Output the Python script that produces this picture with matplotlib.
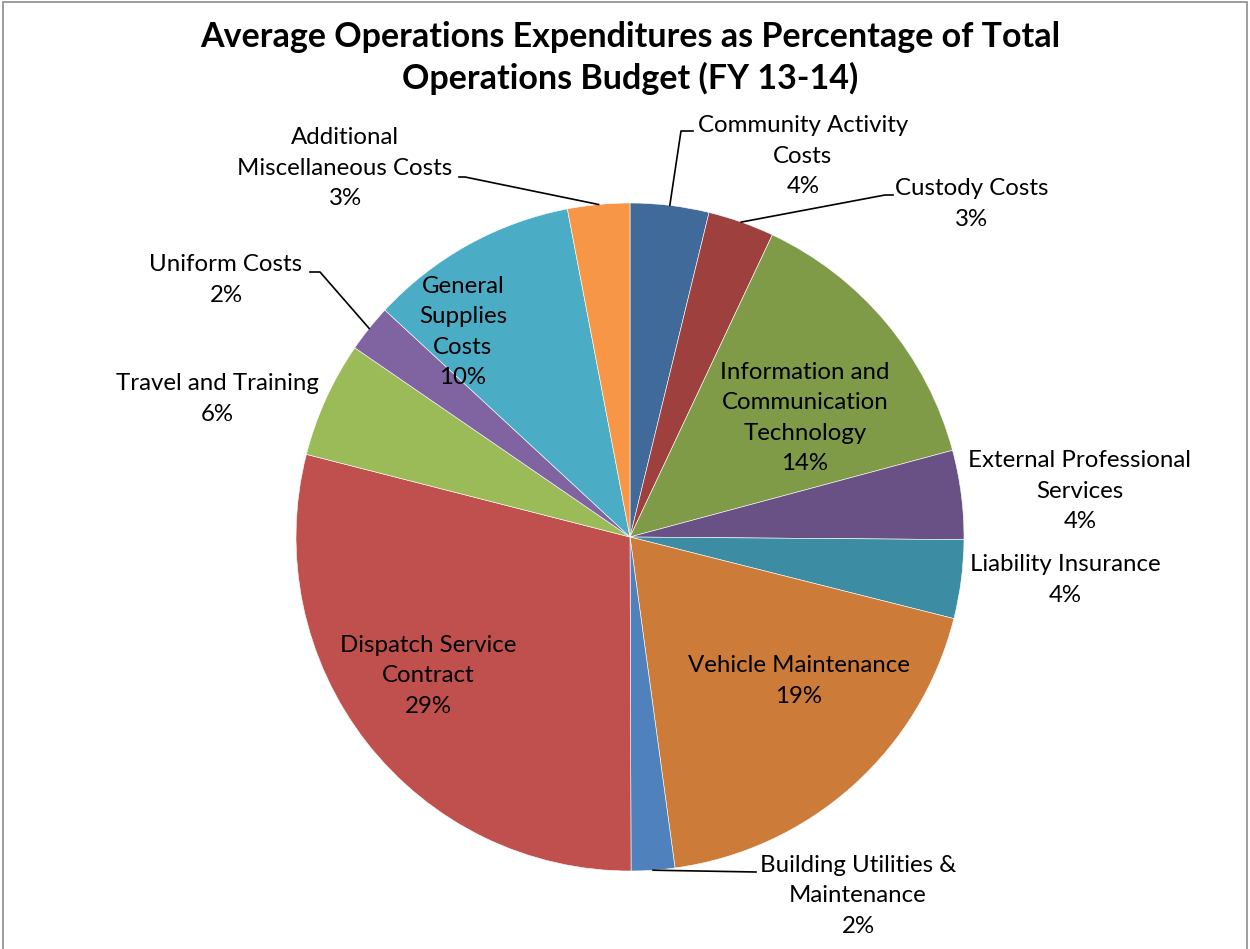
import matplotlib.pyplot as plt
from matplotlib.patches import Rectangle
import numpy as np

# --- Data ---
categories = [
    'Community Activity\nCosts',
    'Custody Costs',
    'Information and\nCommunication\nTechnology',
    'External Professional\nServices',
    'Liability Insurance',
    'Vehicle Maintenance',
    'Building Utilities &\nMaintenance',
    'Dispatch Service\nContract',
    'Travel and Training',
    'Uniform Costs',
    'General\nSupplies\nCosts',
    'Additional\nMiscellaneous Costs',
]
values = [3.8, 3.2, 13.8, 4.3, 3.8, 18.9, 2.1, 29.0, 5.6, 2.3, 10.1, 3.0]

colors = ['#3F6A9A', '#9E413E', '#7F9B48', '#6A5185', '#3C8DA3', '#CC7B38',
          '#4F81BD', '#C0504D', '#9BBB59', '#8064A2', '#4BACC6', '#F79646']

# label placement in pixel space (x, y from top), plus leader line points
label_pos = [(803, 156), (972, 204), (805, 418), (1080, 491), (1065, 580), (799, 681),
             (858, 896), (428, 676), (217, 399), (226, 280), (463, 332), (345, 168)]
leaders = {
    0: [(681, 131), (693, 131)],
    1: [(885, 195), (893, 195)],
    6: [(756, 872)],
    9: [(320, 272), (310, 272)],
    11: [(465, 177), (459, 177)],
}

W, H = 1250, 949
cx, cy, r = 630, 537, 334

plt.rcParams['font.family'] = ['Lato', 'DejaVu Sans']
fig = plt.figure(figsize=(W / 100, H / 100), dpi=100)
ax = fig.add_axes([0, 0, 1, 1])

# y axis runs downward, so counterclock=True draws clockwise on screen
wedges, _ = ax.pie(values, colors=colors, startangle=-90, counterclock=True,
                   center=(cx, cy), radius=r, frame=True,
                   wedgeprops={'linewidth': 0.4, 'edgecolor': 'white'})
ax.set_xlim(0, W)
ax.set_ylim(H, 0)
ax.set_aspect('equal')
ax.axis('off')

for i, (w, name, v) in enumerate(zip(wedges, categories, values)):
    x, y = label_pos[i]
    ax.text(x, y, f'{name}\n{v:.0f}%', ha='center', va='center', fontsize=17.3,
            linespacing=1.55, color='black')
    if i in leaders:
        mid = np.deg2rad((w.theta1 + w.theta2) / 2)
        sx, sy = cx + r * np.cos(mid), cy + r * np.sin(mid)
        pts = [(sx, sy)] + leaders[i]
        ax.plot([p[0] for p in pts], [p[1] for p in pts], color='black', lw=1.2)

fig.text(630 / W, 1 - 58 / H,
         'Average Operations Expenditures as Percentage of Total\nOperations Budget (FY 13-14)',
         ha='center', va='center', fontsize=24.5, fontweight='bold', linespacing=1.3)

# chart border
fig.patches.append(Rectangle((3 / W, -0.01), (W - 6) / W, 1.008, transform=fig.transFigure,
                             fill=False, edgecolor='#8C8C8C', lw=1.2))

fig.savefig('out.png', dpi=100)
